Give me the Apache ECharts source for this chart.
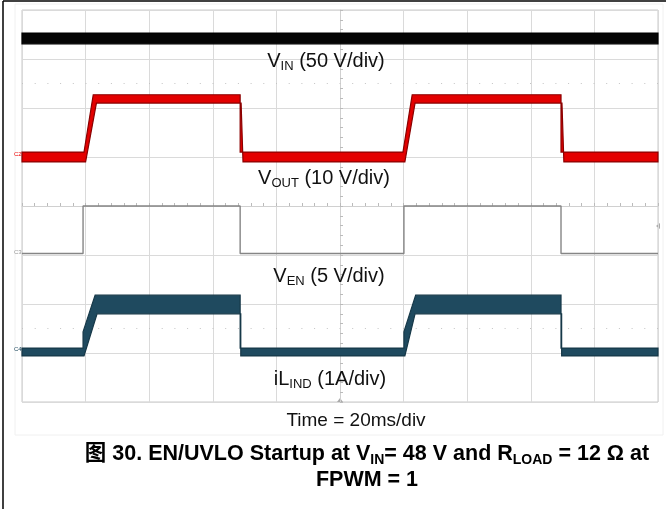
<!DOCTYPE html>
<html>
<head>
<meta charset="utf-8">
<script src="https://cdn.jsdelivr.net/npm/echarts@6/dist/echarts.min.js"></script>
<style>
  html, body { margin: 0; padding: 0; background: #fff; }
  #scope { width: 666px; height: 509px; }
</style>
</head>
<body>
<div id="scope"></div>
<script>
// time in ms (trigger at centre), amplitude in screen divisions
const timeTicks = [-100, -80, -60, -40, -20, 0, 20, 40, 60, 80, 100];

// VIN, 50 V/div - flat noisy band
const vinTop = [[-100, 3.53], [100, 3.53]];
const vinBot = [[-100, 3.31], [100, 3.31]];

// VOUT, 10 V/div
const voutTop = [[-100, 1.10], [-80.5, 1.10], [-77.6, 2.27], [-31.4, 2.27], [-31.4, 1.10],
                 [19.8, 1.10], [22.7, 2.27], [69.5, 2.27], [69.5, 1.10], [100, 1.10]];
const voutBot = [[-100, 0.90], [-80.0, 0.90], [-76.6, 2.10], [-31.1, 2.10], [-30.5, 0.90],
                 [20.4, 0.90], [23.6, 2.10], [69.8, 2.10], [70.4, 0.90], [100, 0.90]];

// VEN, 5 V/div
const ven = [[-100, -0.97], [-80.8, -0.97], [-80.8, 0.0], [-31.4, 0.0], [-31.4, -0.97],
             [20.1, -0.97], [20.1, 0.0], [69.5, 0.0], [69.5, -0.97], [100, -0.97]];

// iL, 1 A/div - wide ripple band when switching
const ilTop = [[-100, -2.90], [-80.8, -2.90], [-80.8, -2.57], [-77.0, -1.82], [-31.4, -1.82], [-31.4, -2.90],
               [20.1, -2.90], [20.1, -2.57], [23.8, -1.82], [69.5, -1.82], [69.5, -2.90], [100, -2.90]];
const ilBot = [[-100, -3.06], [-80.5, -3.06], [-76.4, -2.20], [-31.2, -2.20], [-31.2, -3.06],
               [20.4, -3.06], [23.6, -2.20], [69.7, -2.20], [69.7, -3.06], [100, -3.06]];

const labelFont = '"Liberation Sans", Arial, "Noto Sans CJK SC", sans-serif';

function bandSeries(name, top, bot, fill, edge, z) {
  const pts = top.concat(bot.slice().reverse());
  return {
    name: name,
    type: 'custom',
    data: pts,
    encode: { x: 0, y: 1 },
    silent: true,
    z: z,
    renderItem: function (params, api) {
      if (params.dataIndex !== 0) return null;
      return {
        type: 'polygon',
        shape: { points: pts.map(function (p) { return api.coord(p); }) },
        style: { fill: fill, stroke: edge, lineWidth: 1.2 }
      };
    }
  };
}

function traceLabel(x, y, main, sub, rest) {
  return {
    type: 'text',
    x: x, y: y, z: 100,
    style: {
      text: '{m|' + main + '}{s|' + sub + '}{m|' + rest + '}',
      align: 'center',
      verticalAlign: 'middle',
      rich: {
        m: { fontFamily: labelFont, fontSize: 20, lineHeight: 24, fill: '#111' },
        s: { fontFamily: labelFont, fontSize: 13, lineHeight: 13, verticalAlign: 'bottom', fill: '#111' }
      }
    }
  };
}

let scope = echarts.init(document.getElementById('scope'), null, { renderer: 'canvas' });

scope.setOption({
  animation: false,
  backgroundColor: '#fff',
  grid: { left: 22, right: 8, top: 10, bottom: 107, show: true, borderColor: '#c9c9c9', borderWidth: 1 },
  xAxis: {
    type: 'value',
    min: timeTicks[0],
    max: timeTicks[timeTicks.length - 1],
    interval: 20,
    axisLine: { show: true, onZero: true, lineStyle: { color: '#d0d0d0' } },
    axisTick: { show: true, inside: true, length: 3, lineStyle: { color: '#bbb' } },
    minorTick: { show: true, splitNumber: 5, length: 3, lineStyle: { color: '#bbb' } },
    axisLabel: { show: false },
    splitLine: { show: true, lineStyle: { color: '#dadada', width: 1 } }
  },
  yAxis: {
    type: 'value',
    min: -4,
    max: 4,
    interval: 1,
    axisLine: { show: true, onZero: true, lineStyle: { color: '#d0d0d0' } },
    axisTick: { show: true, inside: true, length: 3, lineStyle: { color: '#bbb' } },
    minorTick: { show: true, splitNumber: 5, length: 3, lineStyle: { color: '#bbb' } },
    axisLabel: { show: false },
    splitLine: { show: true, lineStyle: { color: '#dadada', width: 1 } }
  },
  series: [
    bandSeries('VIN', vinTop, vinBot, '#050505', '#000', 3),
    bandSeries('VOUT', voutTop, voutBot, '#e30000', '#8a0000', 4),
    {
      name: 'VEN',
      type: 'line',
      data: ven,
      showSymbol: false,
      silent: true,
      z: 5,
      lineStyle: { color: '#858585', width: 1.4 },
      markLine: {
        silent: true,
        symbol: 'none',
        label: { show: false },
        lineStyle: { color: '#c4c4c4', type: [1, 11.7], width: 1 },
        data: [{ yAxis: 2.5 }, { yAxis: -2.5 }]
      }
    },
    bandSeries('iL', ilTop, ilBot, '#1f4a5f', '#163848', 6)
  ],
  graphic: [
    // outer frame of the figure
    { type: 'line', shape: { x1: 3, y1: 1, x2: 666, y2: 1 }, style: { stroke: '#000', lineWidth: 1.5 } },
    { type: 'line', shape: { x1: 3, y1: 1, x2: 3, y2: 509 }, style: { stroke: '#000', lineWidth: 1.5 } },
    { type: 'rect', shape: { x: 15, y: 4, width: 648, height: 431 }, style: { fill: 'none', stroke: '#f0f0f0', lineWidth: 1 }, z: -1 },
    // channel markers
    { type: 'text', x: 14, y: 151, style: { text: 'C2', fontSize: 6, fill: '#e00', fontFamily: labelFont } },
    { type: 'text', x: 14, y: 249, style: { text: 'C3', fontSize: 6, fill: '#999', fontFamily: labelFont } },
    { type: 'text', x: 14, y: 346, style: { text: 'C4', fontSize: 6, fill: '#1f4a5f', fontFamily: labelFont } },
    { type: 'polygon', shape: { points: [[660, 223], [660, 229], [656, 226]] }, style: { fill: '#aaa' } },
    { type: 'polygon', shape: { points: [[337, 402], [343, 402], [340, 398]] }, style: { fill: '#aaa' } },
    // trace labels
    traceLabel(326, 61, 'V', 'IN', ' (50 V/div)'),
    traceLabel(324, 178, 'V', 'OUT', ' (10 V/div)'),
    traceLabel(329, 276, 'V', 'EN', ' (5 V/div)'),
    traceLabel(330, 379, 'iL', 'IND', ' (1A/div)'),
    {
      type: 'text', x: 356, y: 421, z: 100,
      style: { text: 'Time = 20ms/div', align: 'center', verticalAlign: 'middle', fontFamily: labelFont, fontSize: 19, fill: '#111' }
    },
    // figure caption
    {
      type: 'text', x: 367, y: 454, z: 100,
      style: {
        text: '{m|图 30. EN/UVLO Startup at V}{s|IN}{m|= 48 V and R}{s|LOAD}{m| = 12 Ω at}',
        align: 'center',
        verticalAlign: 'middle',
        rich: {
          m: { fontFamily: labelFont, fontWeight: 'bold', fontSize: 21.5, lineHeight: 26, fill: '#000' },
          s: { fontFamily: labelFont, fontWeight: 'bold', fontSize: 14, lineHeight: 14, verticalAlign: 'bottom', fill: '#000' }
        }
      }
    },
    {
      type: 'text', x: 367, y: 480, z: 100,
      style: { text: 'FPWM = 1', align: 'center', verticalAlign: 'middle', fontFamily: labelFont, fontWeight: 'bold', fontSize: 21.5, fill: '#000' }
    }
  ]
});
</script>
</body>
</html>
